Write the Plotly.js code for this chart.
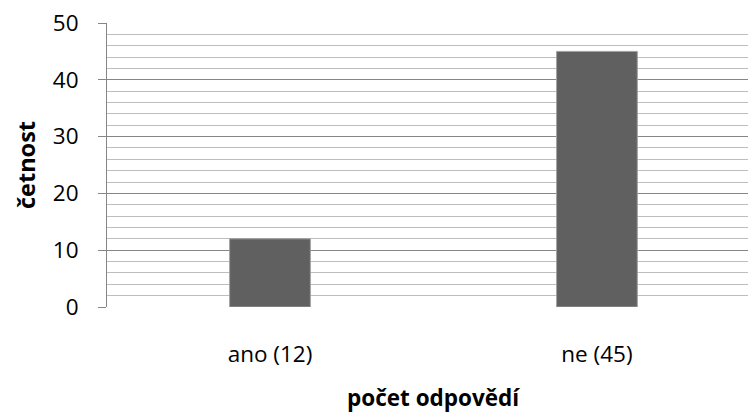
<!DOCTYPE html>
<html>
<head>
<meta charset="utf-8">
<script src="https://cdn.plot.ly/plotly-3.0.1.min.js"></script>
<style>html,body{margin:0;padding:0;background:#fff;}#chart{width:748px;height:412px;}</style>
</head>
<body>
<div id="chart"></div>
<script>
const categories = ["ano (12)", "ne (45)"];
const counts = [12, 45];
const yTitle = "četnost";
const xTitle = "počet odpovědí";

const FONT = "Open Sans, Liberation Sans, sans-serif";
const FS = 22.5;

Plotly.newPlot("chart", [{
  type: "bar",
  x: categories,
  y: counts,
  width: 0.247,
  marker: {color: "#606060", line: {color: "#a0a0a0", width: 1}},
  hoverinfo: "none"
}], {
  width: 748, height: 412,
  margin: {l: 107, r: 0, t: 23, b: 105},
  paper_bgcolor: "#fff", plot_bgcolor: "#fff",
  showlegend: false,
  font: {family: FONT, size: FS, color: "#000"},
  xaxis: {
    type: "category",
    range: [-0.4985, 1.462],
    showgrid: false, zeroline: false, showline: false,
    ticks: "", ticklabelstandoff: 31,
    tickfont: {family: FONT, size: FS, color: "#000"},
    fixedrange: true
  },
  yaxis: {
    range: [0, 50],
    dtick: 10,
    showgrid: true, gridcolor: "#868686", gridwidth: 1,
    zeroline: false,
    showline: true, linecolor: "#868686", linewidth: 1,
    ticks: "outside", ticklen: 8, tickcolor: "#868686", tickwidth: 1,
    ticklabelstandoff: 15,
    tickfont: {family: FONT, size: FS, color: "#000"},
    minor: {dtick: 2, showgrid: true, gridcolor: "#bdbdbd", gridwidth: 1, ticks: ""},
    title: {text: yTitle, font: {family: FONT, size: 23.5, color: "#000", weight: "bold"}, standoff: 10},
    fixedrange: true
  },
  annotations: [{
    text: xTitle, xref: "x", yref: "paper", x: 0.5, y: -0.318,
    xanchor: "center", yanchor: "middle", showarrow: false, borderpad: 0,
    font: {family: FONT, size: FS, color: "#000", weight: "bold"}
  }]
}, {staticPlot: true, displayModeBar: false});
</script>
</body>
</html>
